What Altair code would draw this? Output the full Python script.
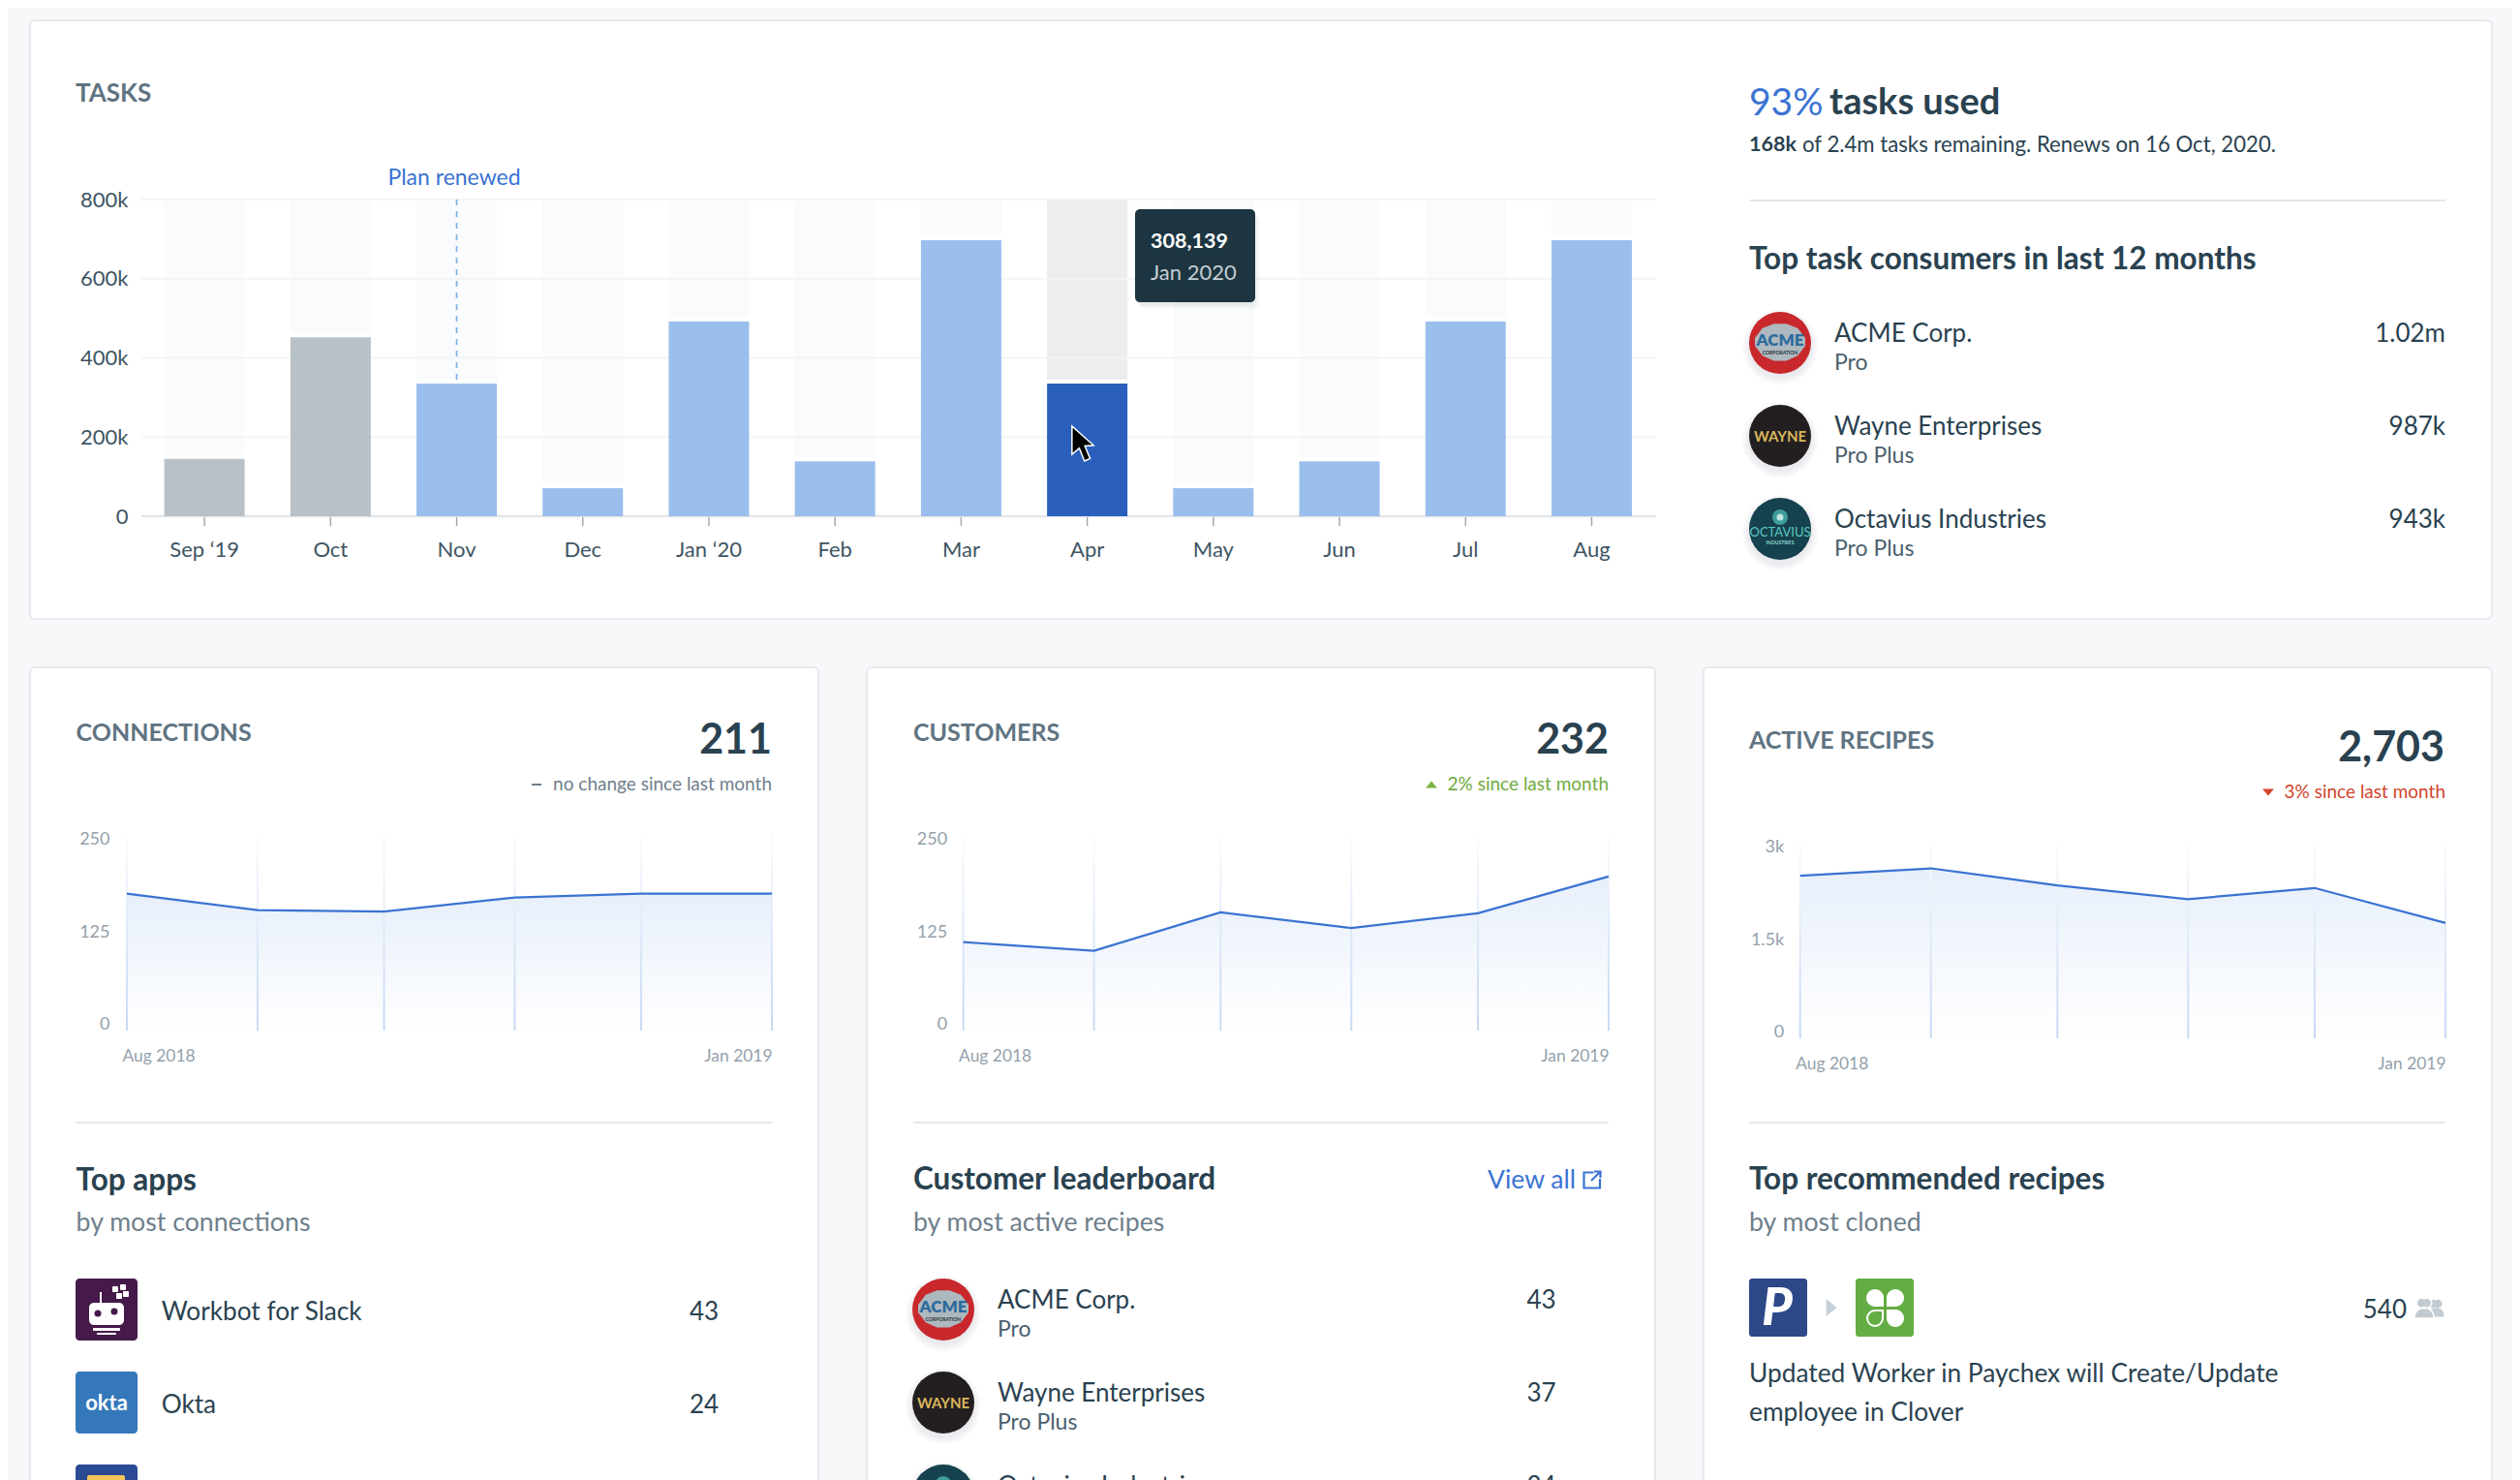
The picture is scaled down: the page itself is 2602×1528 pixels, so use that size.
import altair as alt
import pandas as pd

FONT = "Lato"
W, H = 2586, 1520
INK = "#2a4250"
MUTED = "#5f7482"
SOFT = "#6f808c"
AXIS = "#94a1ab"
BLUE = "#3a73d2"
LINE = "#e5e8eb"

months = ["Sep ‘19", "Oct", "Nov", "Dec", "Jan ‘20", "Feb", "Mar", "Apr", "May", "Jun", "Jul", "Aug"]
tasks = [145000, 452000, 335000, 71000, 492000, 139000, 697000, 335000, 71000, 139000, 492000, 697000]
states = ["past", "past", "plan", "plan", "plan", "plan", "plan", "active", "plan", "plan", "plan", "plan"]
task_ticks = [0, 200000, 400000, 600000, 800000]

trend_dates = ["2018-08-01T00:00:00", "2018-09-01T00:00:00", "2018-10-01T00:00:00",
               "2018-11-01T00:00:00", "2018-12-01T00:00:00", "2019-01-01T00:00:00"]
connections = [175, 154, 152, 170, 175, 175]
customers = [113, 102, 151, 131, 150, 197]
recipes = [2492, 2606, 2346, 2134, 2305, 1769]

consumers = ["ACME Corp.", "Wayne Enterprises", "Octavius Industries"]
consumer_plans = ["Pro", "Pro Plus", "Pro Plus"]
consumer_tasks = ["1.02m", "987k", "943k"]
leader_counts = ["43", "37", "34"]
app_names = ["Workbot for Slack", "Okta"]
app_counts = ["43", "24"]

one = alt.Data(values=[{"a": 1}])
X = lambda v: v - 8
Y = lambda v: v - 8
KILO = "datum.value >= 1000 ? (datum.value / 1000) + 'k' : '' + datum.value"


def T(text, x, y, size, color=INK, weight=400, align="left", style="normal"):
    dy = 3 if size >= 40 else 1.5
    return alt.Chart(one).mark_text(
        font=FONT, fontSize=size, fontWeight=weight, align=align, baseline="middle",
        fontStyle=style, color=color,
    ).encode(x=alt.value(X(x)), y=alt.value(Y(y + dy)), text=alt.value(text))


def box(x0, y0, x1, y1, fill="#ffffff", radius=0, stroke=None, sw=0, opacity=1, **corners):
    kw = dict(fill=fill, cornerRadius=radius, opacity=opacity)
    if stroke:
        kw.update(stroke=stroke, strokeWidth=sw)
    kw.update(corners)
    return alt.Chart(one).mark_rect(**kw).encode(
        x=alt.value(X(x0)), x2=alt.value(X(x1)), y=alt.value(Y(y0)), y2=alt.value(Y(y1)))


def icon(shape, cx, cy, w, fill=None, stroke=None, sw=0, opacity=1):
    kw = dict(shape=shape, size=w * w, opacity=opacity, strokeWidth=sw)
    kw.update(filled=fill is not None)
    if fill is not None:
        kw["fill"] = fill
    if stroke:
        kw["stroke"] = stroke
    else:
        kw["strokeWidth"] = 0
    return alt.Chart(one).mark_point(**kw).encode(x=alt.value(X(cx)), y=alt.value(Y(cy)))


def logo_shadow(cx, cy):
    return [icon("circle", cx, cy + 4, d, "#1c3540", opacity=0.025) for d in (78, 74, 70, 66)]


def acme(cx, cy):
    oct_path = "M-1,-0.15 L-0.7,-0.55 L-0.25,-0.72 L0.25,-0.72 L0.7,-0.55 L1,-0.15 L1,0.15 L0.7,0.55 L0.25,0.75 L-0.25,0.75 L-0.7,0.55 L-1,0.15 Z"
    return logo_shadow(cx, cy) + [
        icon("circle", cx, cy, 64, "#c8282c"),
        icon(oct_path, cx, cy - 1, 52, "#aeb8bf"),
        T("ACME", cx, cy - 4, 17, "#2c6c9e", 800, "center"),
        T("CORPORATION", cx, cy + 8, 5, "#27313a", 700, "center"),
    ]


def wayne(cx, cy):
    return logo_shadow(cx, cy) + [
        icon("circle", cx, cy, 64, "#231f20"),
        T("WAYNE", cx, cy - 1, 15, "#d9b65c", 700, "center"),
    ]


def octavius(cx, cy):
    return logo_shadow(cx, cy) + [
        icon("circle", cx, cy, 64, "#15424e"),
        icon("circle", cx, cy - 12, 16, "#3f9c9c"),
        icon("circle", cx, cy - 12, 7, "#bfe5e0"),
        T("OCTAVIUS", cx, cy + 2, 13, "#5cc7c1", 400, "center"),
        T("INDUSTRIES", cx, cy + 12, 5, "#8fd6d0", 700, "center"),
    ]


def task_chart():
    df = pd.DataFrame({"month": months, "tasks": tasks, "state": states, "top": [800000] * 12})
    ticks = pd.DataFrame({"v": task_ticks})
    xs = alt.Scale(type="band", domain=months, range=[X(169.6), X(1685)], paddingInner=0.3625, paddingOuter=0)
    ys = alt.Scale(domain=[0, 800000], range=[Y(533), Y(206)])
    col = alt.Chart(df).transform_calculate(base="datum.tasks + 10000").mark_bar().encode(
        x=alt.X("month:N", scale=xs, sort=months, axis=None),
        y=alt.Y("top:Q", scale=ys, axis=None),
        y2="base:Q",
        color=alt.condition(alt.datum.month == "Apr", alt.value("#ebedef"), alt.value("#fafbfc")),
    )
    grid = alt.Chart(ticks).transform_filter("datum.v > 0").mark_rule(color="#f3f4f6", strokeWidth=2).encode(
        y=alt.Y("v:Q", scale=ys, axis=None), x=alt.value(X(146)), x2=alt.value(X(1710)))
    base = alt.Chart(ticks).transform_filter("datum.v == 0").mark_rule(color="#e3e7ea", strokeWidth=2.5).encode(
        y=alt.Y("v:Q", scale=ys, axis=None), x=alt.value(X(146)), x2=alt.value(X(1710)))
    bars = alt.Chart(df).mark_bar().encode(
        x=alt.X("month:N", scale=xs, sort=months, axis=None),
        y=alt.Y("tasks:Q", stack=None, scale=ys, axis=None),
        color=alt.Color("state:N", legend=None, scale=alt.Scale(
            domain=["past", "plan", "active"], range=["#b9c1c8", "#9abfec", "#2a5fbc"])),
    )
    renew = alt.Chart(df[df.month == "Nov"]).mark_rule(color="#7fb0ea", strokeWidth=1.7, strokeDash=[6, 6]).encode(
        x=alt.X("month:N", scale=xs, sort=months, axis=None),
        y=alt.Y("top:Q", scale=ys, axis=None), y2=alt.Y2("tasks:Q"))
    tick_marks = alt.Chart(df).mark_rule(color="#9aa6ae", strokeWidth=1.4).encode(
        x=alt.X("month:N", scale=xs, sort=months, axis=None),
        y=alt.value(Y(534)), y2=alt.value(Y(543)))
    guides = alt.Chart(df).mark_point(opacity=0).encode(
        x=alt.X("month:N", scale=xs, sort=months, title=None, axis=alt.Axis(
            orient="bottom", offset=Y(533) - H, domain=False, ticks=False, tickSize=0,
            labelPadding=24, labelFont=FONT, labelFontSize=22, labelColor="#3f5563",
            labelAngle=0, labelOverlap=False, grid=False, zindex=1)),
        y=alt.Y("tasks:Q", stack=None, scale=ys, title=None, axis=alt.Axis(
            orient="left", offset=-X(132), values=task_ticks, labelExpr=KILO, domain=False, ticks=False, tickSize=0,
            labelPadding=0, labelFont=FONT, labelFontSize=22, labelColor="#3f5563", grid=False, labelOverlap=False,
            zindex=1)),
    )
    return [alt.layer(col, grid, base, bars, renew, tick_marks), guides]


def trend(values, x0, x1, y0, y1, ymax, ticks, label_x):
    df = pd.DataFrame({"date": trend_dates, "v": values, "top": [ymax] * 6, "zero": [0] * 6})
    xs = alt.Scale(range=[X(x0), X(x1)], nice=False, padding=0)
    ys = alt.Scale(domain=[0, ymax], range=[Y(y0), Y(y1)])
    xe = alt.X("date:T", scale=xs, axis=None)
    fill = alt.Gradient(gradient="linear", x1=1, x2=1, y1=0, y2=1, stops=[
        alt.GradientStop(color="#e7effa", offset=0),
        alt.GradientStop(color="#f3f7fd", offset=0.5),
        alt.GradientStop(color="#ffffff", offset=1)])
    rule_fill = alt.Gradient(gradient="linear", x1=1, x2=1, y1=0, y2=1, stops=[
        alt.GradientStop(color="#fbfcfe", offset=0),
        alt.GradientStop(color="#dfe9f8", offset=0.5),
        alt.GradientStop(color="#c6daf5", offset=1)])
    area = alt.Chart(df).mark_area(color=fill).encode(
        x=xe, y=alt.Y("v:Q", stack=None, scale=ys, axis=None))
    rules = alt.Chart(df).mark_bar(size=2, color=rule_fill).encode(
        x=xe, y=alt.Y("top:Q", stack=None, scale=ys, axis=None), y2="zero:Q")
    line = alt.Chart(df).mark_line(color=BLUE, strokeWidth=2.2).encode(
        x=xe, y=alt.Y("v:Q", stack=None, scale=ys, axis=None))
    guides = alt.Chart(df).mark_point(opacity=0).encode(
        x=alt.X("date:T", scale=alt.Scale(range=[X(x0), X(x1)], nice=False), title=None, axis=alt.Axis(
            orient="bottom", offset=Y(y0) - H, domain=False, ticks=False, tickSize=0, labelPadding=17,
            values=[trend_dates[0], trend_dates[-1]], labelExpr="timeFormat(datum.value, '%b %Y')", labelFlush=True,
            labelOffset=alt.expr("datum.index == 0 ? -5 : 0"),
            labelFont=FONT, labelFontSize=17.4, labelColor=AXIS, grid=False, labelOverlap=False, zindex=1)),
        y=alt.Y("v:Q", stack=None, scale=ys, title=None, axis=alt.Axis(
            orient="left", offset=-X(label_x), values=ticks, labelExpr=KILO, domain=False, ticks=False, tickSize=0,
            labelPadding=0, labelFont=FONT, labelFontSize=18, labelColor=AXIS, grid=False, labelOverlap=False,
            labelOffset=alt.expr(f"datum.value == {ymax} ? 4 : datum.value == 0 ? -7 : -1"), zindex=1)),
    )
    return [alt.layer(area, rules, line), guides]


def card(x0, y0, x1, y1):
    return box(x0, y0, x1, y1, "#ffffff", 5, "#e6e9ed", 2)


layers = []
# cards
layers += [card(31, 21, 2573, 639), card(31, 689, 845, 1560), card(895, 689, 1709, 1560), card(1759, 689, 2573, 1560)]

# Tasks panel
layers += task_chart()
layers.append(T("TASKS", 78, 95.5, 26, MUTED, 700))
layers.append(T("Plan renewed", 469, 182, 23, BLUE, 400, "center"))
layers += [box(1172 + d, 216 + 2 + d, 1296 + d, 312 + 2 + d, "#1c3540", 6, opacity=0.03) for d in (5, 3, 1)]
layers.append(box(1172, 216, 1296, 312, "#1c3540", 5))
layers.append(T("308,139", 1188, 248, 21.5, "#ffffff", 700))
layers.append(T("Jan 2020", 1188, 280, 22, "#c5cdd2"))
cursor = "M-0.62,-1 L-0.62,0.62 L-0.2,0.26 L0.1,1 L0.42,0.86 L0.12,0.14 L0.62,0.1 Z"
layers.append(icon(cursor, 1118, 458, 36, "#000000", "#ffffff", 1.5))

# Usage summary
layers.append(T("93%", 1806, 105, 39, BLUE))
layers.append(T("tasks used", 1889, 105, 38, INK, 700))
layers.append(T("168k", 1806, 148, 21.5, INK, 700))
layers.append(T("of 2.4m tasks remaining. Renews on 16 Oct, 2020.", 1861, 148, 22.2, INK))
layers.append(box(1806, 206, 2525, 208, LINE))
layers.append(T("Top task consumers in last 12 months", 1806, 267, 31.5, INK, 700))
for i, logo in enumerate((acme, wayne, octavius)):
    cy = 354 + 96 * i
    layers += logo(1838, cy)
    layers.append(T(consumers[i], 1894, cy - 11, 26, INK))
    layers.append(T(consumer_plans[i], 1894, cy + 19, 23, "#4b606e"))
    layers.append(T(consumer_tasks[i], 2525, cy - 11, 26, INK, 400, "right"))

# Connections card
layers += trend(connections, 131, 797, 1064, 862, 250, [0, 125, 250], 113)
layers.append(T("CONNECTIONS", 78.6, 755.5, 25, MUTED, 700))
layers.append(T("211", 797, 762, 43, INK, 700, "right"))
layers.append(box(549, 809, 559, 811, SOFT))
layers.append(T("no change since last month", 797, 808.5, 19, SOFT, 400, "right"))
layers.append(box(78.6, 1158, 797, 1160, LINE))
layers.append(T("Top apps", 78.6, 1218, 31.5, INK, 700))
layers.append(T("by most connections", 78.6, 1261, 26.7, SOFT))
# app icons
layers.append(box(78, 1320, 142, 1384, "#451a4a", 4))
layers.append(box(92, 1345, 128, 1368, "#ffffff", 5))
layers.append(icon("circle", 101, 1356, 7, "#451a4a"))
layers.append(icon("circle", 118, 1354, 7, "#451a4a"))
layers.append(box(96, 1371, 124, 1374, "#ffffff", 1))
layers.append(box(100, 1376, 120, 1378, "#ffffff", 1))
layers.append(box(103, 1334, 105, 1345, "#ffffff"))
for px, py in [(119, 1331), (127, 1329), (123, 1338), (130, 1336)]:
    layers.append(box(px - 3, py - 3, px + 3, py + 3, "#ffffff", 1))
layers.append(box(78, 1416, 142, 1480, "#3478ba", 4))
layers.append(T("okta", 110, 1447, 22, "#ffffff", 700, "center"))
layers.append(box(78, 1512, 142, 1560, "#2a4a93", 4))
layers.append(box(90, 1523, 129, 1560, "#f5c55a", 2))
for i in range(2):
    cy = 1353 + 96 * i
    layers.append(T(app_names[i], 166.7, cy, 26.2, INK))
    layers.append(T(app_counts[i], 727, cy, 26, INK, 400, "center"))

# Customers card
layers += trend(customers, 994.6, 1661, 1064, 862, 250, [0, 125, 250], 977.6)
layers.append(T("CUSTOMERS", 943, 755.5, 25, MUTED, 700))
layers.append(T("232", 1661, 762, 43, INK, 700, "right"))
up = "M-1,0.6 L1,0.6 L0,-0.6 Z"
down = "M-1,-0.6 L1,-0.6 L0,0.6 Z"
layers.append(icon(up, 1478, 810, 12, "#79b344"))
layers.append(T("2% since last month", 1661, 808.5, 19, "#6fab3c", 400, "right"))
layers.append(box(943, 1158, 1661, 1160, LINE))
layers.append(T("Customer leaderboard", 943, 1217, 31.5, INK, 700))
layers.append(T("by most active recipes", 943, 1261, 26.7, SOFT))
layers.append(T("View all", 1536, 1217, 26.5, BLUE))
ext = "M0.15,-0.75 L-0.85,-0.75 L-0.85,0.85 L0.8,0.85 L0.8,-0.1 M-0.1,0.1 L0.85,-0.85 M0.2,-0.85 L0.85,-0.85 L0.85,-0.2"
layers.append(icon(ext, 1644, 1218, 20, None, BLUE, 2.2))
for i, logo in enumerate((acme, wayne, octavius)):
    cy = 1352 + 96 * i
    layers += logo(974, cy)
    layers.append(T(consumers[i], 1030, cy - 11, 26, INK))
    layers.append(T(consumer_plans[i], 1030, cy + 19, 23, "#4b606e"))
    layers.append(T(leader_counts[i], 1591.5, cy - 11, 26, INK, 400, "center"))

# Active recipes card
layers += trend(recipes, 1858.7, 2525, 1072, 870, 3000, [0, 1500, 3000], 1841.7)
layers.append(T("ACTIVE RECIPES", 1806, 763.5, 25, MUTED, 700))
layers.append(T("2,703", 2524, 770, 43, INK, 700, "right"))
layers.append(icon(down, 2342, 818, 12, "#d2452c"))
layers.append(T("3% since last month", 2525, 816.5, 19, "#d2452c", 400, "right"))
layers.append(box(1806, 1158, 2525, 1160, LINE))
layers.append(T("Top recommended recipes", 1806, 1217, 31.5, INK, 700))
layers.append(T("by most cloned", 1806, 1261, 26.7, SOFT))
layers.append(box(1806, 1320, 1866, 1380, "#2c4887", 3))
layers.append(T("P", 1835, 1349, 54, "#ffffff", 900, "center", style="italic"))
layers.append(icon("M-0.6,-1 L0.6,0 L-0.6,1 Z", 1891, 1350, 18, "#c8d0d7"))
layers.append(box(1916, 1320, 1976, 1380, "#63ad43", 3))
layers.append(box(1927, 1331, 1945, 1349, "#ffffff", 0, cornerRadiusTopLeft=9, cornerRadiusTopRight=9, cornerRadiusBottomLeft=9))
layers.append(box(1948, 1331, 1966, 1349, "#ffffff", 0, cornerRadiusTopLeft=9, cornerRadiusTopRight=9, cornerRadiusBottomRight=9))
layers.append(box(1948, 1352, 1966, 1370, "#ffffff", 0, cornerRadiusBottomLeft=9, cornerRadiusTopRight=9, cornerRadiusBottomRight=9))
layers.append(box(1928, 1353, 1944, 1369, "#63ad43", 0, "#ffffff", 2, cornerRadiusTopLeft=8, cornerRadiusBottomLeft=8, cornerRadiusBottomRight=8))
layers.append(T("540", 2485, 1351, 26, INK, 400, "right"))
person = "M-1,1 C-1,0.2 -0.6,-0.05 0,-0.05 C0.6,-0.05 1,0.2 1,1 Z M0,-1 A0.5,0.5 0 1 1 0,-0.15 A0.5,0.5 0 1 1 0,-1 Z"
layers.append(icon(person, 2515, 1351, 17, "#c2cbd2"))
layers.append(icon(person, 2503, 1351, 20, "#c2cbd2", "#ffffff", 1.5))
layers.append(T("Updated Worker in Paychex will Create/Update", 1806, 1417, 26.3, INK))
layers.append(T("employee in Clover", 1806, 1457, 26.3, INK))

chart = alt.layer(*layers).resolve_scale(x="independent", y="independent", color="independent").properties(
    width=W, height=H, padding=0, background="#f7f8fa",
    autosize=alt.AutoSizeParams(type="none", contains="padding"),
).configure_view(stroke=None)

chart.save("out.html", embed_options={"renderer": "svg", "actions": False})
